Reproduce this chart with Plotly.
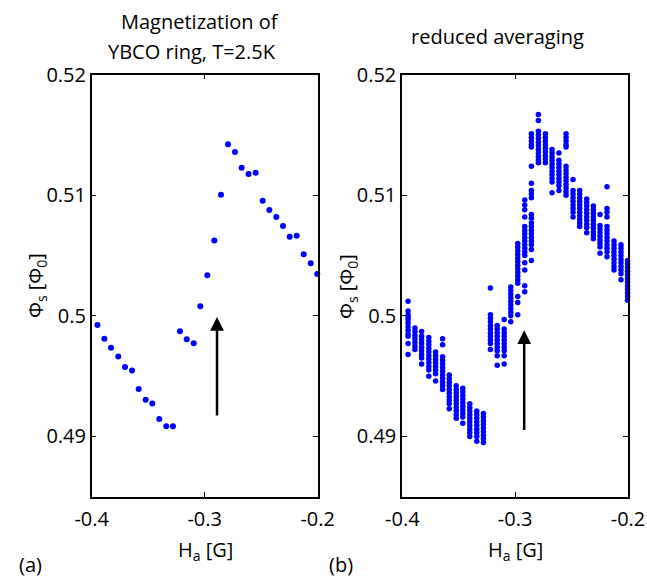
import plotly.graph_objects as go

# ---------------- data ----------------
H_a = [-0.3949, -0.3888, -0.3829, -0.3765, -0.3705, -0.3643, -0.3584, -0.3522,
       -0.3464, -0.3402, -0.3340, -0.3281, -0.3219, -0.3159, -0.3097, -0.3039,
       -0.2977, -0.2915, -0.2856, -0.2794, -0.2732, -0.2673, -0.2612, -0.2549,
       -0.2487, -0.2428, -0.2366, -0.2307, -0.2248, -0.2186, -0.2124, -0.2062,
       -0.2004]

phi_a = [0.49925, 0.49811, 0.49736, 0.49662, 0.49576, 0.49546, 0.49394, 0.49305,
         0.49272, 0.49145, 0.49085, 0.49085, 0.49872, 0.49806, 0.49773, 0.50080,
         0.50337, 0.50624, 0.51005, 0.51423, 0.51359, 0.51229, 0.51177, 0.51187,
         0.50955, 0.50878, 0.50820, 0.50745, 0.50657, 0.50665, 0.50511, 0.50436,
         0.50347]

# reduced averaging: many readings per field value (one list per H_a entry)
phi_b_columns = [
    [0.5012, 0.5004, 0.5001, 0.4999, 0.4997, 0.4994, 0.4991, 0.4988, 0.4985, 0.4983, 0.4977, 0.4968],
    [0.4990, 0.4987, 0.4984, 0.4981, 0.4978, 0.4975, 0.4972],
    [0.4987, 0.4983, 0.4980, 0.4977, 0.4974, 0.4971, 0.4968, 0.4965, 0.4960],
    [0.4982, 0.4979, 0.4976, 0.4973, 0.4970, 0.4967, 0.4964, 0.4961, 0.4958, 0.4955, 0.4950],
    [0.4970, 0.4967, 0.4964, 0.4961, 0.4958, 0.4955, 0.4952, 0.4946],
    [0.4981, 0.4976, 0.4966, 0.4963, 0.4960, 0.4957, 0.4954, 0.4951, 0.4948, 0.4945, 0.4942, 0.4939],
    [0.4951, 0.4948, 0.4945, 0.4942, 0.4939, 0.4936, 0.4933, 0.4930, 0.4927, 0.4923],
    [0.4942, 0.4939, 0.4936, 0.4933, 0.4930, 0.4927, 0.4924, 0.4921, 0.4918, 0.4915],
    [0.4940, 0.4937, 0.4934, 0.4931, 0.4928, 0.4925, 0.4922, 0.4919, 0.4916, 0.4911],
    [0.4927, 0.4924, 0.4921, 0.4918, 0.4915, 0.4912, 0.4909, 0.4906, 0.4903, 0.4900],
    [0.4921, 0.4918, 0.4915, 0.4912, 0.4909, 0.4906, 0.4903, 0.4900, 0.4896],
    [0.4919, 0.4916, 0.4913, 0.4910, 0.4907, 0.4904, 0.4901, 0.4898, 0.4895],
    [0.5023, 0.5001, 0.4998, 0.4995, 0.4992, 0.4989, 0.4986, 0.4983, 0.4980, 0.4977, 0.4972],
    [0.4992, 0.4989, 0.4986, 0.4983, 0.4980, 0.4977, 0.4974, 0.4971, 0.4967, 0.4959],
    [0.4997, 0.4989, 0.4986, 0.4983, 0.4980, 0.4977, 0.4974, 0.4971, 0.4967, 0.4960],
    [0.5024, 0.5021, 0.5018, 0.5015, 0.5012, 0.5009, 0.5006, 0.5003, 0.5000, 0.4995],
    [0.5060, 0.5057, 0.5054, 0.5051, 0.5048, 0.5045, 0.5042, 0.5039, 0.5036, 0.5033, 0.5030, 0.5027, 0.5016, 0.5011, 0.5001],
    [0.5096, 0.5092, 0.5088, 0.5082, 0.5074, 0.5071, 0.5068, 0.5065, 0.5062, 0.5059, 0.5056, 0.5053, 0.5050, 0.5044, 0.5038, 0.5025, 0.5020],
    [0.5151, 0.5148, 0.5145, 0.5142, 0.5140, 0.5124, 0.5110, 0.5104, 0.5101, 0.5098, 0.5084, 0.5081, 0.5077, 0.5074, 0.5071, 0.5068, 0.5065, 0.5062, 0.5059, 0.5055, 0.5046],
    [0.5167, 0.5162, 0.5153, 0.5150, 0.5147, 0.5144, 0.5141, 0.5138, 0.5135, 0.5132, 0.5129, 0.5127],
    [0.5151, 0.5148, 0.5145, 0.5142, 0.5139, 0.5136, 0.5133, 0.5130, 0.5127],
    [0.5138, 0.5135, 0.5132, 0.5129, 0.5126, 0.5123, 0.5120, 0.5117, 0.5114, 0.5111, 0.5102],
    [0.5135, 0.5129, 0.5126, 0.5123, 0.5120, 0.5117, 0.5114, 0.5111, 0.5108, 0.5104],
    [0.5151, 0.5148, 0.5145, 0.5142, 0.5140, 0.5124, 0.5121, 0.5118, 0.5115, 0.5112, 0.5109, 0.5106, 0.5103, 0.5100],
    [0.5113, 0.5104, 0.5101, 0.5098, 0.5095, 0.5092, 0.5089, 0.5086, 0.5082],
    [0.5104, 0.5101, 0.5098, 0.5095, 0.5092, 0.5089, 0.5086, 0.5083, 0.5080, 0.5077, 0.5074],
    [0.5097, 0.5094, 0.5091, 0.5088, 0.5085, 0.5082, 0.5079, 0.5076, 0.5073, 0.5069],
    [0.5091, 0.5088, 0.5085, 0.5082, 0.5079, 0.5076, 0.5073, 0.5070, 0.5067, 0.5064],
    [0.5084, 0.5075, 0.5072, 0.5069, 0.5066, 0.5063, 0.5060, 0.5057, 0.5052],
    [0.5107, 0.5089, 0.5086, 0.5082, 0.5074, 0.5071, 0.5068, 0.5065, 0.5062, 0.5059, 0.5056, 0.5053, 0.5049],
    [0.5062, 0.5059, 0.5056, 0.5053, 0.5050, 0.5047, 0.5044, 0.5041, 0.5038],
    [0.5059, 0.5056, 0.5053, 0.5050, 0.5047, 0.5044, 0.5041, 0.5038, 0.5035, 0.5030],
    [0.5046, 0.5043, 0.5040, 0.5037, 0.5034, 0.5031, 0.5028, 0.5025, 0.5022, 0.5019, 0.5016, 0.5013],
]

x_tickvals = [-0.4, -0.3, -0.2]
x_ticktext = ["-0.4", "-0.3", "-0.2"]
y_tickvals = [0.49, 0.50, 0.51, 0.52]
y_ticktext = ["0.49", "0.5", "0.51", "0.52"]
x_range = [-0.4, -0.2]
y_range = [0.485, 0.52]

# arrows (tail/tip, data coordinates)
arrow_a = dict(x=-0.2891, tail=0.4916, tip=0.4999)
arrow_b = dict(x=-0.2920, tail=0.4904, tip=0.4988)

# ---------------- figure ----------------
FONT = "Open Sans, Noto Sans, DejaVu Sans, sans-serif"
BLUE = "#0000FF"
FS = 20

hb_x, hb_y = [], []
for h, col in zip(H_a, phi_b_columns):
    for v in col:
        hb_x.append(h)
        hb_y.append(v)

fig = go.Figure()
fig.add_trace(go.Scatter(x=H_a, y=phi_a, mode="markers", xaxis="x", yaxis="y",
                         marker=dict(color=BLUE, size=6, line=dict(width=0)),
                         cliponaxis=False, showlegend=False))
fig.add_trace(go.Scatter(x=hb_x, y=hb_y, mode="markers", xaxis="x2", yaxis="y2",
                         marker=dict(color=BLUE, size=5.5, line=dict(width=0)),
                         cliponaxis=False, showlegend=False))

W, Hh = 647, 580
def px_x(p):
    return p / W
def px_y(p):
    return 1 - p / Hh

axis_common = dict(showgrid=False, zeroline=False, showline=True, linecolor="black",
                   mirror="ticks", ticks="inside", ticklen=5,
                   tickcolor="black", tickwidth=1, automargin=False,
                   tickfont=dict(family=FONT, size=FS, color="black"))

fig.update_layout(
    template="none",
    width=W, height=Hh,
    margin=dict(l=0, r=0, t=0, b=0, pad=0),
    paper_bgcolor="white", plot_bgcolor="white",
    font=dict(family=FONT, color="black"),
    showlegend=False,
    xaxis=dict(domain=[px_x(91.7), px_x(317.7)], range=x_range, anchor="y",
               linewidth=1.5, ticklabelstandoff=4,
               tickvals=x_tickvals, ticktext=x_ticktext, **axis_common),
    yaxis=dict(domain=[px_y(496.7), px_y(74.7)], range=y_range, anchor="x",
               linewidth=1.5,
               tickvals=y_tickvals, ticktext=y_ticktext, **axis_common),
    xaxis2=dict(domain=[px_x(402.3), px_x(628.0)], range=x_range, anchor="y2",
                linewidth=1.5, ticklabelstandoff=4,
                tickvals=x_tickvals, ticktext=x_ticktext, **axis_common),
    yaxis2=dict(domain=[px_y(496.7), px_y(74.7)], range=y_range, anchor="x2",
                linewidth=2,
                tickvals=y_tickvals, ticktext=y_ticktext, **axis_common),
)

ann = []
def txt(text, x, y, size=FS, angle=0):
    ann.append(dict(text=text, x=px_x(x), y=px_y(y), xref="paper", yref="paper",
                    showarrow=False, xanchor="center", yanchor="middle",
                    textangle=angle, font=dict(family=FONT, size=size, color="black")))

txt("Magnetization of", 200, 21)
txt("YBCO ring, T=2.5K", 192, 51)
txt("reduced averaging", 497, 37)
txt("H<sub>a</sub> [G]", 205, 550)
txt("H<sub>a</sub> [G]", 515, 550)
txt("(a)", 31, 564)
txt("(b)", 341, 564)
txt("Φ<sub>s</sub> [Φ<sub>0</sub>]", 36, 286, angle=-90)
txt("Φ<sub>s</sub> [Φ<sub>0</sub>]", 347, 286, angle=-90)

for arr, xr, yr in [(arrow_a, "x", "y"), (arrow_b, "x2", "y2")]:
    ann.append(dict(x=arr["x"], y=arr["tip"], ax=arr["x"], ay=arr["tail"],
                    xref=xr, yref=yr, axref=xr, ayref=yr, text="",
                    showarrow=True, arrowhead=2, arrowsize=1.1, arrowwidth=2.5,
                    arrowcolor="black"))

fig.update_layout(annotations=ann)
fig.write_html("out.html")
